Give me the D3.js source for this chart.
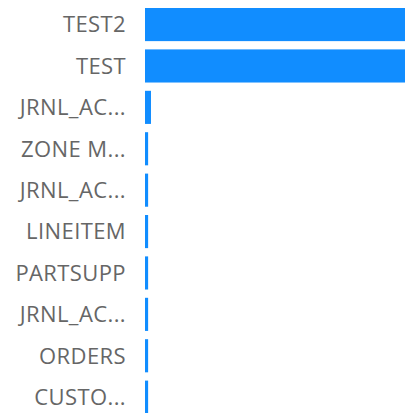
<!DOCTYPE html>
<html>
<head>
<meta charset="utf-8">
<script src="https://cdn.jsdelivr.net/npm/d3@7"></script>
<style>
  body { margin: 0; background: #fff; }
  svg { display: block; }
</style>
</head>
<body>
<svg id="chart" width="407" height="413"></svg>
<script>
// tabelas (rótulos já truncados como no gráfico original)
const tabelas = ["TEST2", "TEST", "JRNL_AC...", "ZONE M...", "JRNL_AC...", "LINEITEM", "PARTSUPP", "JRNL_AC...", "ORDERS", "CUSTO..."];
const valores = [100, 100, 2.3, 1.2, 1.2, 1.2, 1.2, 1.2, 1.2, 1.2];

const svg = d3.select("#chart");

const x = d3.scaleLinear()
  .domain([0, d3.max(valores)])
  .range([145, 405]);

const step = 41.4;
const y = d3.scaleBand()
  .domain(d3.range(tabelas.length))
  .range([8 - 0.1 * step, 8 - 0.1 * step + step * tabelas.length])
  .paddingInner(0.2)
  .paddingOuter(0.1);

// barras
svg.append("g")
  .selectAll("rect")
  .data(valores)
  .join("rect")
  .attr("x", x(0))
  .attr("y", (d, i) => y(i))
  .attr("width", d => Math.max(3, x(d) - x(0)))
  .attr("height", y.bandwidth())
  .attr("fill", "#118dff");

// rótulos
svg.append("g")
  .selectAll("text")
  .data(tabelas)
  .join("text")
  .attr("x", 126)
  .attr("y", (d, i) => y(i) + y.bandwidth() / 2)
  .attr("dy", "0.36em")
  .attr("text-anchor", "end")
  .attr("fill", "#666")
  .style("font-family", "'Open Sans', 'Noto Sans', sans-serif")
  .style("font-size", "22px")
  .style("letter-spacing", "0.4px")
  .text(d => d);
</script>
</body>
</html>
